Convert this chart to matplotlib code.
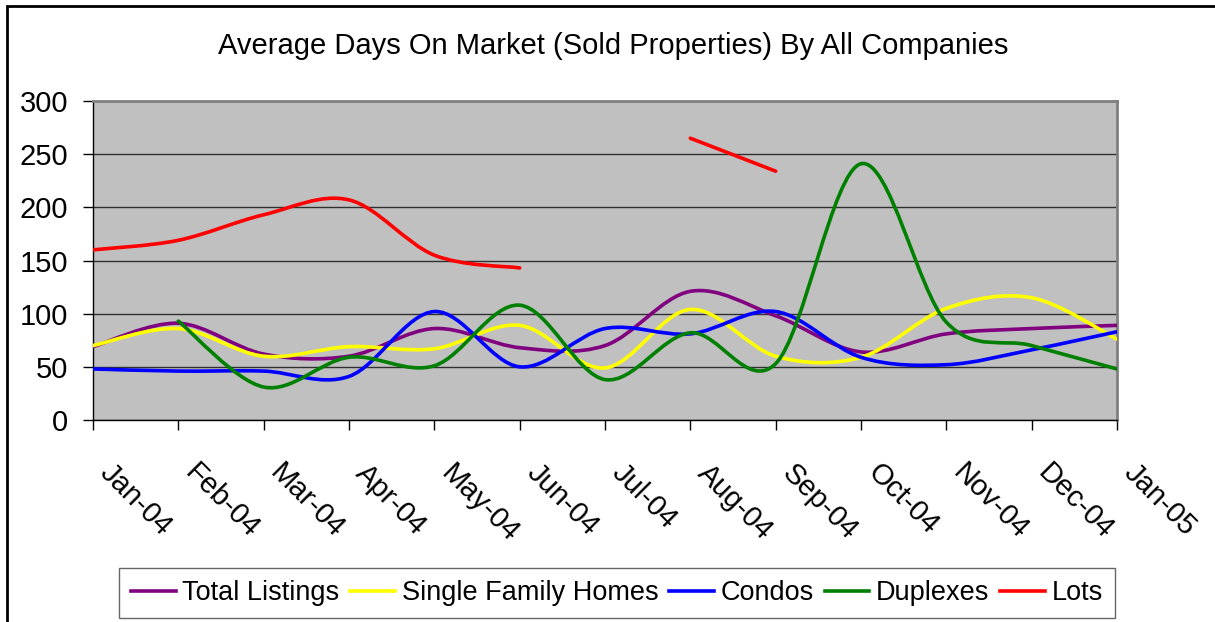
import numpy as np
import matplotlib.pyplot as plt
from matplotlib.path import Path
from matplotlib.patches import PathPatch, Rectangle
from matplotlib.lines import Line2D
from matplotlib.transforms import ScaledTranslation

plt.rcParams['font.family'] = ['Liberation Sans', 'DejaVu Sans']

# data
months = ["Jan-04", "Feb-04", "Mar-04", "Apr-04", "May-04", "Jun-04", "Jul-04",
          "Aug-04", "Sep-04", "Oct-04", "Nov-04", "Dec-04", "Jan-05"]
total_listings = [69, 91, 62, 60, 86, 68, 70, 121, 98, 64, 81, 86, 89]
single_family = [70, 86, 60, 69, 67, 89, 49, 104, 60, 59, 105, 115, 76]
condos = [48, 46, 46, 41, 102, 50, 86, 81, 102, 59, 52, 66, 83]
duplexes = [np.nan, 93, 31, 59, 51, 108, 38, 82, 53, 241, 92, 70, 48]
lots = [160, 169, 193, 207, 155, 143, np.nan, 265, 234, np.nan, np.nan, np.nan, np.nan]

series = [
    ("Total Listings", total_listings, "#800080"),
    ("Single Family Homes", single_family, "#FFFF00"),
    ("Condos", condos, "#0000FF"),
    ("Duplexes", duplexes, "#008000"),
    ("Lots", lots, "#FF0000"),
]


def smooth_path(xs, ys):
    # smoothed line like Excel: cubic bezier through each point
    verts, codes = [(xs[0], ys[0])], [Path.MOVETO]
    n = len(xs)
    for i in range(1, n):
        p0 = (xs[i - 2], ys[i - 2]) if i >= 2 else (xs[i - 1], ys[i - 1])
        p1 = (xs[i - 1], ys[i - 1])
        p2 = (xs[i], ys[i])
        p3 = (xs[i + 1], ys[i + 1]) if i + 1 < n else p2
        c1 = (p1[0] + (p2[0] - p0[0]) / 6, p1[1] + (p2[1] - p0[1]) / 6)
        c2 = (p2[0] - (p3[0] - p1[0]) / 6, p2[1] - (p3[1] - p1[1]) / 6)
        verts += [c1, c2, p2]
        codes += [Path.CURVE4] * 3
    return Path(verts, codes)


fig = plt.figure(figsize=(12.15, 6.22), dpi=100)
ax = fig.add_axes([93 / 1215, 202 / 622, 1024 / 1215, 319 / 622])
ax.set_facecolor("#C0C0C0")

x = np.arange(len(months))
for name, vals, color in series:
    vals = np.array(vals, dtype=float)
    ok = ~np.isnan(vals)
    # split into runs of consecutive values
    start = None
    for i in range(len(vals) + 1):
        if i < len(vals) and ok[i]:
            if start is None:
                start = i
        elif start is not None:
            seg = slice(start, i)
            if i - start >= 2:
                ax.add_patch(PathPatch(smooth_path(x[seg], vals[seg]), fill=False,
                                       edgecolor=color, lw=2.6, capstyle="round",
                                       joinstyle="round", zorder=3))
            start = None

ax.set_xlim(0, len(months) - 1)
ax.set_ylim(0, 300)
ax.set_yticks(range(0, 301, 50))
ax.set_xticks(x)
ax.set_xticklabels(months, rotation=-45, ha="left", va="top", rotation_mode="anchor")
ax.yaxis.grid(True, color="#303030", lw=1.0)
ax.set_axisbelow(True)
ax.tick_params(axis="both", labelsize=21, length=7, width=1, direction="out")
ax.tick_params(axis="y", pad=11)
ax.tick_params(axis="x", pad=21)
for lbl in ax.get_xticklabels():
    lbl.set_transform(lbl.get_transform() + ScaledTranslation(0.21, 0, fig.dpi_scale_trans))

for s in ["left", "bottom"]:
    ax.spines[s].set_color("black")
    ax.spines[s].set_linewidth(1)
for s in ["top", "right"]:
    ax.spines[s].set_color("#808080")
    ax.spines[s].set_linewidth(2)

fig.text(613 / 1215, 1 - 46 / 622, "Average Days On Market (Sold Properties) By All Companies",
         ha="center", va="center", fontsize=21)

handles = [Line2D([], [], color=c, lw=2.6) for _, _, c in series]
leg = fig.legend(handles, [s[0] for s in series], loc="center", ncol=5,
                 bbox_to_anchor=(617 / 1215, 29 / 622), fontsize=19.5,
                 frameon=True, fancybox=False, edgecolor="#404040",
                 handlelength=1.65, handletextpad=0.25, columnspacing=0.4,
                 borderpad=0.45, borderaxespad=0)
leg.get_frame().set_linewidth(1)

# outer chart border (cropped at right and bottom)
fig.add_artist(Rectangle((7 / 1215, -0.05), 1.1, 1 - 6 / 622 + 0.05, transform=fig.transFigure,
                         fill=False, edgecolor="black", lw=2))

plt.savefig("out.png", dpi=100)
